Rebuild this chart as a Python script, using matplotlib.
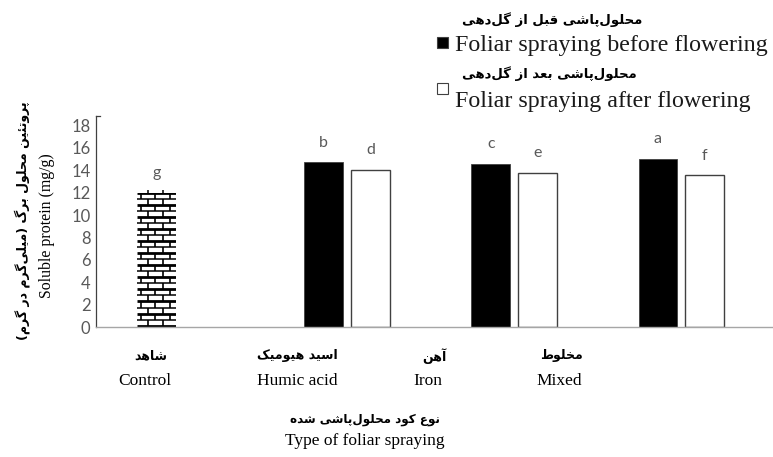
import numpy as np
import matplotlib
matplotlib.use("Agg")
import matplotlib.pyplot as plt
from matplotlib.collections import LineCollection
from matplotlib.patches import Rectangle

# data
groups_en = ["Control", "Humic acid", "Iron", "Mixed"]
groups_fa = ["شاهد", "اسید هیومیک", "آهن", "مخلوط"]
before = [12.0, 14.75, 14.6, 15.05]
after = [np.nan, 14.07, 13.8, 13.6]
letters_before = ["g", "b", "c", "a"]
letters_after = ["", "d", "e", "f"]

legend_fa = ["محلول‌پاشی قبل از گل‌دهی", "محلول‌پاشی بعد از گل‌دهی"]
legend_en = ["Foliar spraying before flowering", "Foliar spraying after flowering"]
xlabel_fa = "نوع کود محلول‌پاشی شده"
xlabel_en = "Type of foliar spraying"
ylabel_fa = "پروتئین محلول برگ (میلی‌گرم در گرم)"
ylabel_en = "Soluble protein (mg/g)"

# --- minimal Persian shaping (matplotlib has no bidi / joining) ---
FORMS = {
    "ا": ("\uFE8D", "\uFE8E", None, None), "آ": ("\uFE81", "\uFE82", None, None),
    "ب": ("\uFE8F", "\uFE90", "\uFE91", "\uFE92"), "پ": ("\uFB56", "\uFB57", "\uFB58", "\uFB59"),
    "ت": ("\uFE95", "\uFE96", "\uFE97", "\uFE98"), "ئ": ("\uFE89", "\uFE8A", "\uFE8B", "\uFE8C"),
    "ح": ("\uFEA1", "\uFEA2", "\uFEA3", "\uFEA4"), "خ": ("\uFEA5", "\uFEA6", "\uFEA7", "\uFEA8"),
    "د": ("\uFEA9", "\uFEAA", None, None), "ر": ("\uFEAD", "\uFEAE", None, None),
    "ز": ("\uFEAF", "\uFEB0", None, None), "و": ("\uFEED", "\uFEEE", None, None),
    "س": ("\uFEB1", "\uFEB2", "\uFEB3", "\uFEB4"), "ش": ("\uFEB5", "\uFEB6", "\uFEB7", "\uFEB8"),
    "ط": ("\uFEC1", "\uFEC2", "\uFEC3", "\uFEC4"), "ع": ("\uFEC9", "\uFECA", "\uFECB", "\uFECC"),
    "ق": ("\uFED5", "\uFED6", "\uFED7", "\uFED8"), "ک": ("\uFB8E", "\uFB8F", "\uFB90", "\uFB91"),
    "گ": ("\uFB92", "\uFB93", "\uFB94", "\uFB95"), "ل": ("\uFEDD", "\uFEDE", "\uFEDF", "\uFEE0"),
    "م": ("\uFEE1", "\uFEE2", "\uFEE3", "\uFEE4"), "ن": ("\uFEE5", "\uFEE6", "\uFEE7", "\uFEE8"),
    "ه": ("\uFEE9", "\uFEEA", "\uFEEB", "\uFEEC"), "ی": ("\uFBFC", "\uFBFD", "\uFBFE", "\uFBFF"),
}


def fa(text):
    out = []
    for i, c in enumerate(text):
        if c not in FORMS:
            out.append(c)
            continue
        f = FORMS[c]
        prev = text[i - 1] if i > 0 else ""
        nxt = text[i + 1] if i + 1 < len(text) else ""
        jp = prev in FORMS and FORMS[prev][2] is not None
        jn = f[2] is not None and nxt in FORMS
        if jp and jn:
            out.append(f[3])
        elif jp:
            out.append(f[1])
        elif jn:
            out.append(f[2])
        else:
            out.append(f[0])
    s = "".join(ch for ch in out if ch != "\u200c")[::-1]
    return s.translate(str.maketrans("()", ")("))


W, H = 773, 457
fig = plt.figure(figsize=(W / 100, H / 100), dpi=100)
ax = fig.add_axes([96 / W, 130 / H, 677 / W, 211.5 / H])

x = np.arange(len(groups_en))
bw = 0.23
off = 0.14
gray = "#595959"

bars_b = ax.bar(x - off, before, bw, color="black", edgecolor="#404040", linewidth=0.6)
bars_a = ax.bar(x + off, after, bw, color="white", edgecolor="#404040", linewidth=1.0)

# control bar: brick pattern instead of solid fill
ctrl = bars_b[0]
ctrl.set_facecolor("white")
ctrl.set_edgecolor("none")
x0, w, h = ctrl.get_x(), ctrl.get_width(), ctrl.get_height()
row, brk = 0.54, 0.088
nrows = int(np.ceil(h / row))
thick, thin, vs = [], [], []
for i in range(nrows + 1):
    yy = h - i * row
    (thick if i % 2 == 0 else thin).append([(x0, yy), (x0 + w, yy)])
for i in range(nrows):
    top = h - i * row
    shift = 0 if i % 2 == 0 else brk / 2
    for xx in np.arange(x0 - brk + shift + 0.02, x0 + w + brk, brk):
        vs.append([(xx, top), (xx, top - row)])
# little stubs above the top edge
stubs = [[(xx, h), (xx, h + 0.25)] for xx in np.arange(x0 - brk + brk / 2 + 0.02, x0 + w, brk) if xx > x0]
for segs, lw in ((thick, 2.0), (thin, 1.1), (vs, 1.2)):
    lc = LineCollection(segs, colors="black", linewidths=lw)
    ax.add_collection(lc)
    lc.set_clip_path(ctrl)
ax.add_collection(LineCollection(stubs, colors="black", linewidths=1.1))

for b, lab in zip(bars_b, letters_before):
    ax.annotate(lab, (b.get_x() + b.get_width() / 2, b.get_height()), xytext=(0, 11),
                textcoords="offset points", ha="center", va="baseline",
                fontsize=11.5, color=gray, family="Lato")
for b, lab in zip(bars_a, letters_after):
    if lab:
        ax.annotate(lab, (b.get_x() + b.get_width() / 2, b.get_height()), xytext=(0, 11),
                    textcoords="offset points", ha="center", va="baseline",
                    fontsize=11.5, color=gray, family="Lato")

ax.set_xlim(-0.503, 3.55)
ax.set_ylim(0, 18.9)
ax.set_yticks(np.arange(0, 19, 2))
ax.set_xticks([])
ax.tick_params(axis="y", length=0, pad=4, labelsize=12, labelcolor=gray)
for t in ax.get_yticklabels():
    t.set_family("Lato")
for s in ("top", "right"):
    ax.spines[s].set_visible(False)
ax.spines["left"].set_color("#404040")
ax.spines["left"].set_linewidth(0.9)
ax.spines["bottom"].set_color("#a6a6a6")
ax.spines["bottom"].set_linewidth(1.0)
ax.plot([0, 0.006], [1, 1], transform=ax.transAxes, color="#404040", lw=0.9, clip_on=False)


def fx(px):
    return px / W


def fy(py):
    return 1 - py / H


# category labels (placed like the source text boxes)
en_px = [145, 297, 428, 559]
fa_px = [151, 297, 434, 561]
for lab, p in zip(groups_en, en_px):
    fig.text(fx(p), fy(381), lab, ha="center", va="center", fontsize=12.5, family="Liberation Serif")
for lab, p in zip(groups_fa, fa_px):
    fig.text(fx(p), fy(356), fa(lab), ha="center", va="center", fontsize=9, fontweight="bold",
             family="DejaVu Sans")

fig.text(fx(365), fy(419), fa(xlabel_fa), ha="center", va="center", fontsize=8.6, fontweight="bold",
         family="DejaVu Sans")
fig.text(fx(365), fy(441), xlabel_en, ha="center", va="center", fontsize=12.5, family="Liberation Serif")

fig.text(fx(47), fy(226), ylabel_en, ha="center", va="center", rotation=90, fontsize=11.4,
         family="Liberation Serif")
fig.text(fx(22), fy(221), fa(ylabel_fa), ha="center", va="center", rotation=90, fontsize=9,
         fontweight="bold", family="DejaVu Sans")

# legend
sq = 11
for i, (face, cy_sq, cy_fa, cy_en) in enumerate((("black", 42, 20, 45), ("white", 88, 74, 101))):
    fig.patches.append(Rectangle((fx(437), fy(cy_sq + sq / 2)), sq / W, sq / H, transform=fig.transFigure,
                                 facecolor=face, edgecolor="#404040", linewidth=0.8))
    fig.text(fx(462), fy(cy_fa), fa(legend_fa[i]), ha="left", va="center", fontsize=9.5,
             fontweight="bold", family="DejaVu Sans")
    fig.text(fx(455), fy(cy_en), legend_en[i], ha="left", va="center", fontsize=17.3,
             family="Liberation Serif", color="#1a1a1a")

fig.savefig("out.png", dpi=100)
